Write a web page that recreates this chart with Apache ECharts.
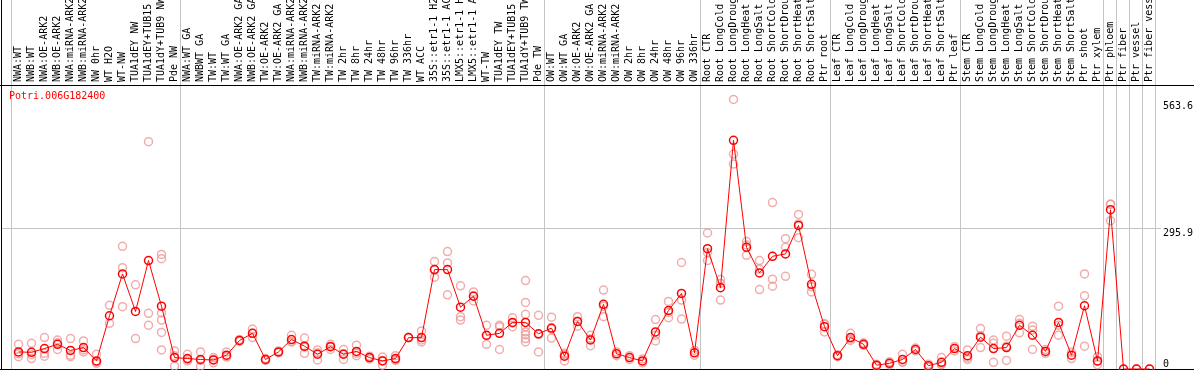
<!DOCTYPE html>
<html><head><meta charset="utf-8">
<script src="https://cdn.jsdelivr.net/npm/echarts@6/dist/echarts.min.js"></script>
<style>html,body{margin:0;padding:0;background:#fff}#c{width:1194px;height:370px}</style>
</head><body><div id="c"></div>
<script>
const geneId = 'Potri.006G182400';

const categories = [
  'NWA:WT','NWB:WT','NWA:OE-ARK2','NWB:OE-ARK2','NWA:miRNA-ARK2','NWB:miRNA-ARK2','NW 0hr','WT H2O','WT-NW','TUA1dEY NW','TUA1dEY+TUB15 NW','TUA1dY+TUB9 NW','Pde NW',
  'NWA:WT GA','NWBWT GA','TW:WT','TW:WT GA','NWA:OE-ARK2 GA','NWB:OE-ARK2 GA','TW:OE-ARK2','TW:OE-ARK2 GA','NWA:miRNA-ARK2','NWB:miRNA-ARK2','TW:miRNA-ARK2','TW:miRNA-ARK2',
  'TW 2hr','TW 8hr','TW 24hr','TW 48hr','TW 96hr','TW 336hr','WT ACC','35S::etr1-1 H2O','35S::etr1-1 ACC','LMX5::etr1-1 H2O','LMX5::etr1-1 ACC','WT-TW','TUA1dEY TW','TUA1dEY+TUB15 TW','TUA1dY+TUB9 TW','Pde TW',
  'OW:WT','OW:WT GA','OW:OE-ARK2','OW:OE-ARK2 GA','OW:miRNA-ARK2','OW:miRNA-ARK2','OW 2hr','OW 8hr','OW 24hr','OW 48hr','OW 96hr','OW 336hr',
  'Root CTR','Root LongCold','Root LongDrought','Root LongHeat','Root LongSalt','Root ShortCold','Root ShortDrought','Root ShortHeat','Root ShortSalt','Ptr root',
  'Leaf CTR','Leaf LongCold','Leaf LongDrought','Leaf LongHeat','Leaf LongSalt','Leaf ShortCold','Leaf ShortDrought','Leaf ShortHeat','Leaf ShortSalt','Ptr leaf',
  'Stem CTR','Stem LongCold','Stem LongDrought','Stem LongHeat','Stem LongSalt','Stem ShortCold','Stem ShortDrought','Stem ShortHeat','Stem ShortSalt','Ptr shoot','Ptr xylem',
  'Ptr phloem','Ptr fiber','Ptr vessel','Ptr fiber vessel'
];

const meanValues = [
  36,35,43,52,39,45,17,112,200,121,228,132,24,
  22,20,19,29,60,75,20,36,62,48,31,47,
  31,37,24,17,22,66,66,209,209,130,153,71,75,98,98,74,
  86,27,100,61,136,32,24,17,78,123,159,34,
  253,171,481,256,202,237,242,302,178,89,
  28,66,52,8,12,20,41,7,14,43,
  28,67,43,45,92,71,37,98,29,133,17,
  335,0,0,0
];

const replicateValues = [
  [52,26,32],[54,22,30],[66,27,33],[61,41,55],[64,29,26],[59,36,40],[31,15,12],[134,96],[258,213,131],[177,64],[478,117,92],[241,232,103,77,40,118],[38,6,28],
  [31,17,20],[36,6,18],[13,24,20],[36,25,27],[62,58],[84,66,75],[18,22],[38,34],[71,58,57],[65,33,46],[40,19,34],[52,41,48],
  [41,20,32],[50,28,33],[27,21,24],[25,8,18],[28,18,20],[66,66],[80,57,61],[226,193,208],[247,223,156],[175,110,103],[162,143,154],[92,52,70],[92,89,41],[108,89,97],[186,140,115,89,78,72,64,57],[113,36,73],
  [109,65,84],[33,17,30],[110,90,100],[71,49,63],[166,110,132],[36,28],[28,20],[21,13],[104,59,71],[142,108,119],[224,145,105],[39,29],
  [286,228,245],[188,145,180],[567,452,431],[268,239,261],[228,167,210],[350,189,174],[274,256,195],[325,276,305],[199,162,173],[78,95,94],
  [30,26],[75,60,63],[55,50],[10,6],[15,9],[31,14,16],[44,38],[10,4],[24,10,9],[47,38],
  [40,24,20],[85,45,70],[61,14,54],[69,18,48],[104,76,96],[90,41,82],[33,41],[132,71,92],[35,22],[200,154,48],[26,9,16],
  [346,312,347],[0],[0],[0]
];

const yTicks = [0, 295.9, 563.6];
const groupStarts = [0, 13, 41, 53, 63, 73, 84, 85, 86, 87];

const mono = 'DejaVu Sans Mono';
const chart = echarts.init(document.getElementById('c'), null, {renderer: 'canvas'});

const repData = [];
replicateValues.forEach((arr, i) => arr.forEach(v => repData.push([i, v])));

chart.setOption({
  animation: false,
  backgroundColor: '#fff',
  title: {
    text: geneId, left: 9, top: 91, padding: 0,
    textStyle: {color: '#ff0000', fontFamily: mono, fontSize: 10, fontWeight: 'normal'}
  },
  grid: {left: 12, right: 38, top: 101, bottom: 1, containLabel: false, outerBoundsMode: 'none'},
  xAxis: {
    type: 'category', data: categories, position: 'top', offset: 16,
    boundaryGap: true,
    axisLine: {show: false}, axisTick: {show: false}, splitLine: {show: false},
    axisLabel: {interval: 0, rotate: 90, margin: 3, color: '#000', fontFamily: mono, fontSize: 10,
      hideOverlap: false}
  },
  yAxis: [{
    type: 'value', position: 'right', min: yTicks[0], max: yTicks[2], interval: yTicks[1],
    axisLine: {show: false}, axisTick: {show: false}, splitLine: {show: false},
    axisLabel: {margin: 7, color: '#000', fontFamily: mono, fontSize: 10, verticalAlign: 'top',
      formatter: v => (v === yTicks[0] ? '' : String(v))}
  }, {
    type: 'value', position: 'right', min: yTicks[0], max: yTicks[2], interval: yTicks[1],
    axisLine: {show: false}, axisTick: {show: false}, splitLine: {show: false},
    axisLabel: {margin: 7, color: '#000', fontFamily: mono, fontSize: 10, verticalAlign: 'bottom',
      formatter: v => (v === yTicks[0] ? String(v) : '')}
  }],
  series: [{
    type: 'scatter', data: repData, symbol: 'circle', symbolSize: 8, z: 2, clip: false,
    itemStyle: {color: 'rgba(0,0,0,0)', borderColor: '#ee9999', borderWidth: 1.5}
  }, {
    type: 'line', data: meanValues, symbol: 'circle', symbolSize: 8, z: 3, clip: false,
    showAllSymbol: true,
    lineStyle: {color: '#ff0000', width: 1},
    itemStyle: {color: 'rgba(0,0,0,0)', borderColor: '#ff0000', borderWidth: 1.5}
  }]
});

// separators, frame and gridline placed through the chart's own scales
const c0 = chart.convertToPixel({xAxisIndex: 0}, 0);
const c1 = chart.convertToPixel({xAxisIndex: 0}, 1);
const band = c1 - c0;
const graphics = [];
const gray = '#c4c4c4';
const bounds = groupStarts.map(k => chart.convertToPixel({xAxisIndex: 0}, k) - band / 2 - 1);
bounds.push(chart.convertToPixel({xAxisIndex: 0}, categories.length - 1) + band / 2 - 1);
bounds.forEach(x => {
  const px = Math.floor(x) + 0.5;
  graphics.push({type: 'line', z: 0, shape: {x1: px, y1: 0, x2: px, y2: 370}, style: {stroke: gray, lineWidth: 1}});
});
const yg = Math.round(chart.convertToPixel({yAxisIndex: 0}, yTicks[1])) + 0.5;
graphics.push({type: 'line', z: 0, shape: {x1: 1, y1: yg, x2: 1161, y2: yg}, style: {stroke: gray, lineWidth: 1}});
const y0 = Math.round(chart.convertToPixel({yAxisIndex: 0}, yTicks[0])) + 0.5;
graphics.push({type: 'line', z: 10, shape: {x1: 0, y1: 85.5, x2: 1194, y2: 85.5}, style: {stroke: '#000', lineWidth: 1}});
graphics.push({type: 'line', z: 10, shape: {x1: 1.5, y1: 0, x2: 1.5, y2: 370}, style: {stroke: '#000', lineWidth: 1}});
graphics.push({type: 'line', z: 1, shape: {x1: 0, y1: y0, x2: 1194, y2: y0}, style: {stroke: '#000', lineWidth: 1}});
chart.setOption({graphic: graphics});
</script>
</body></html>
